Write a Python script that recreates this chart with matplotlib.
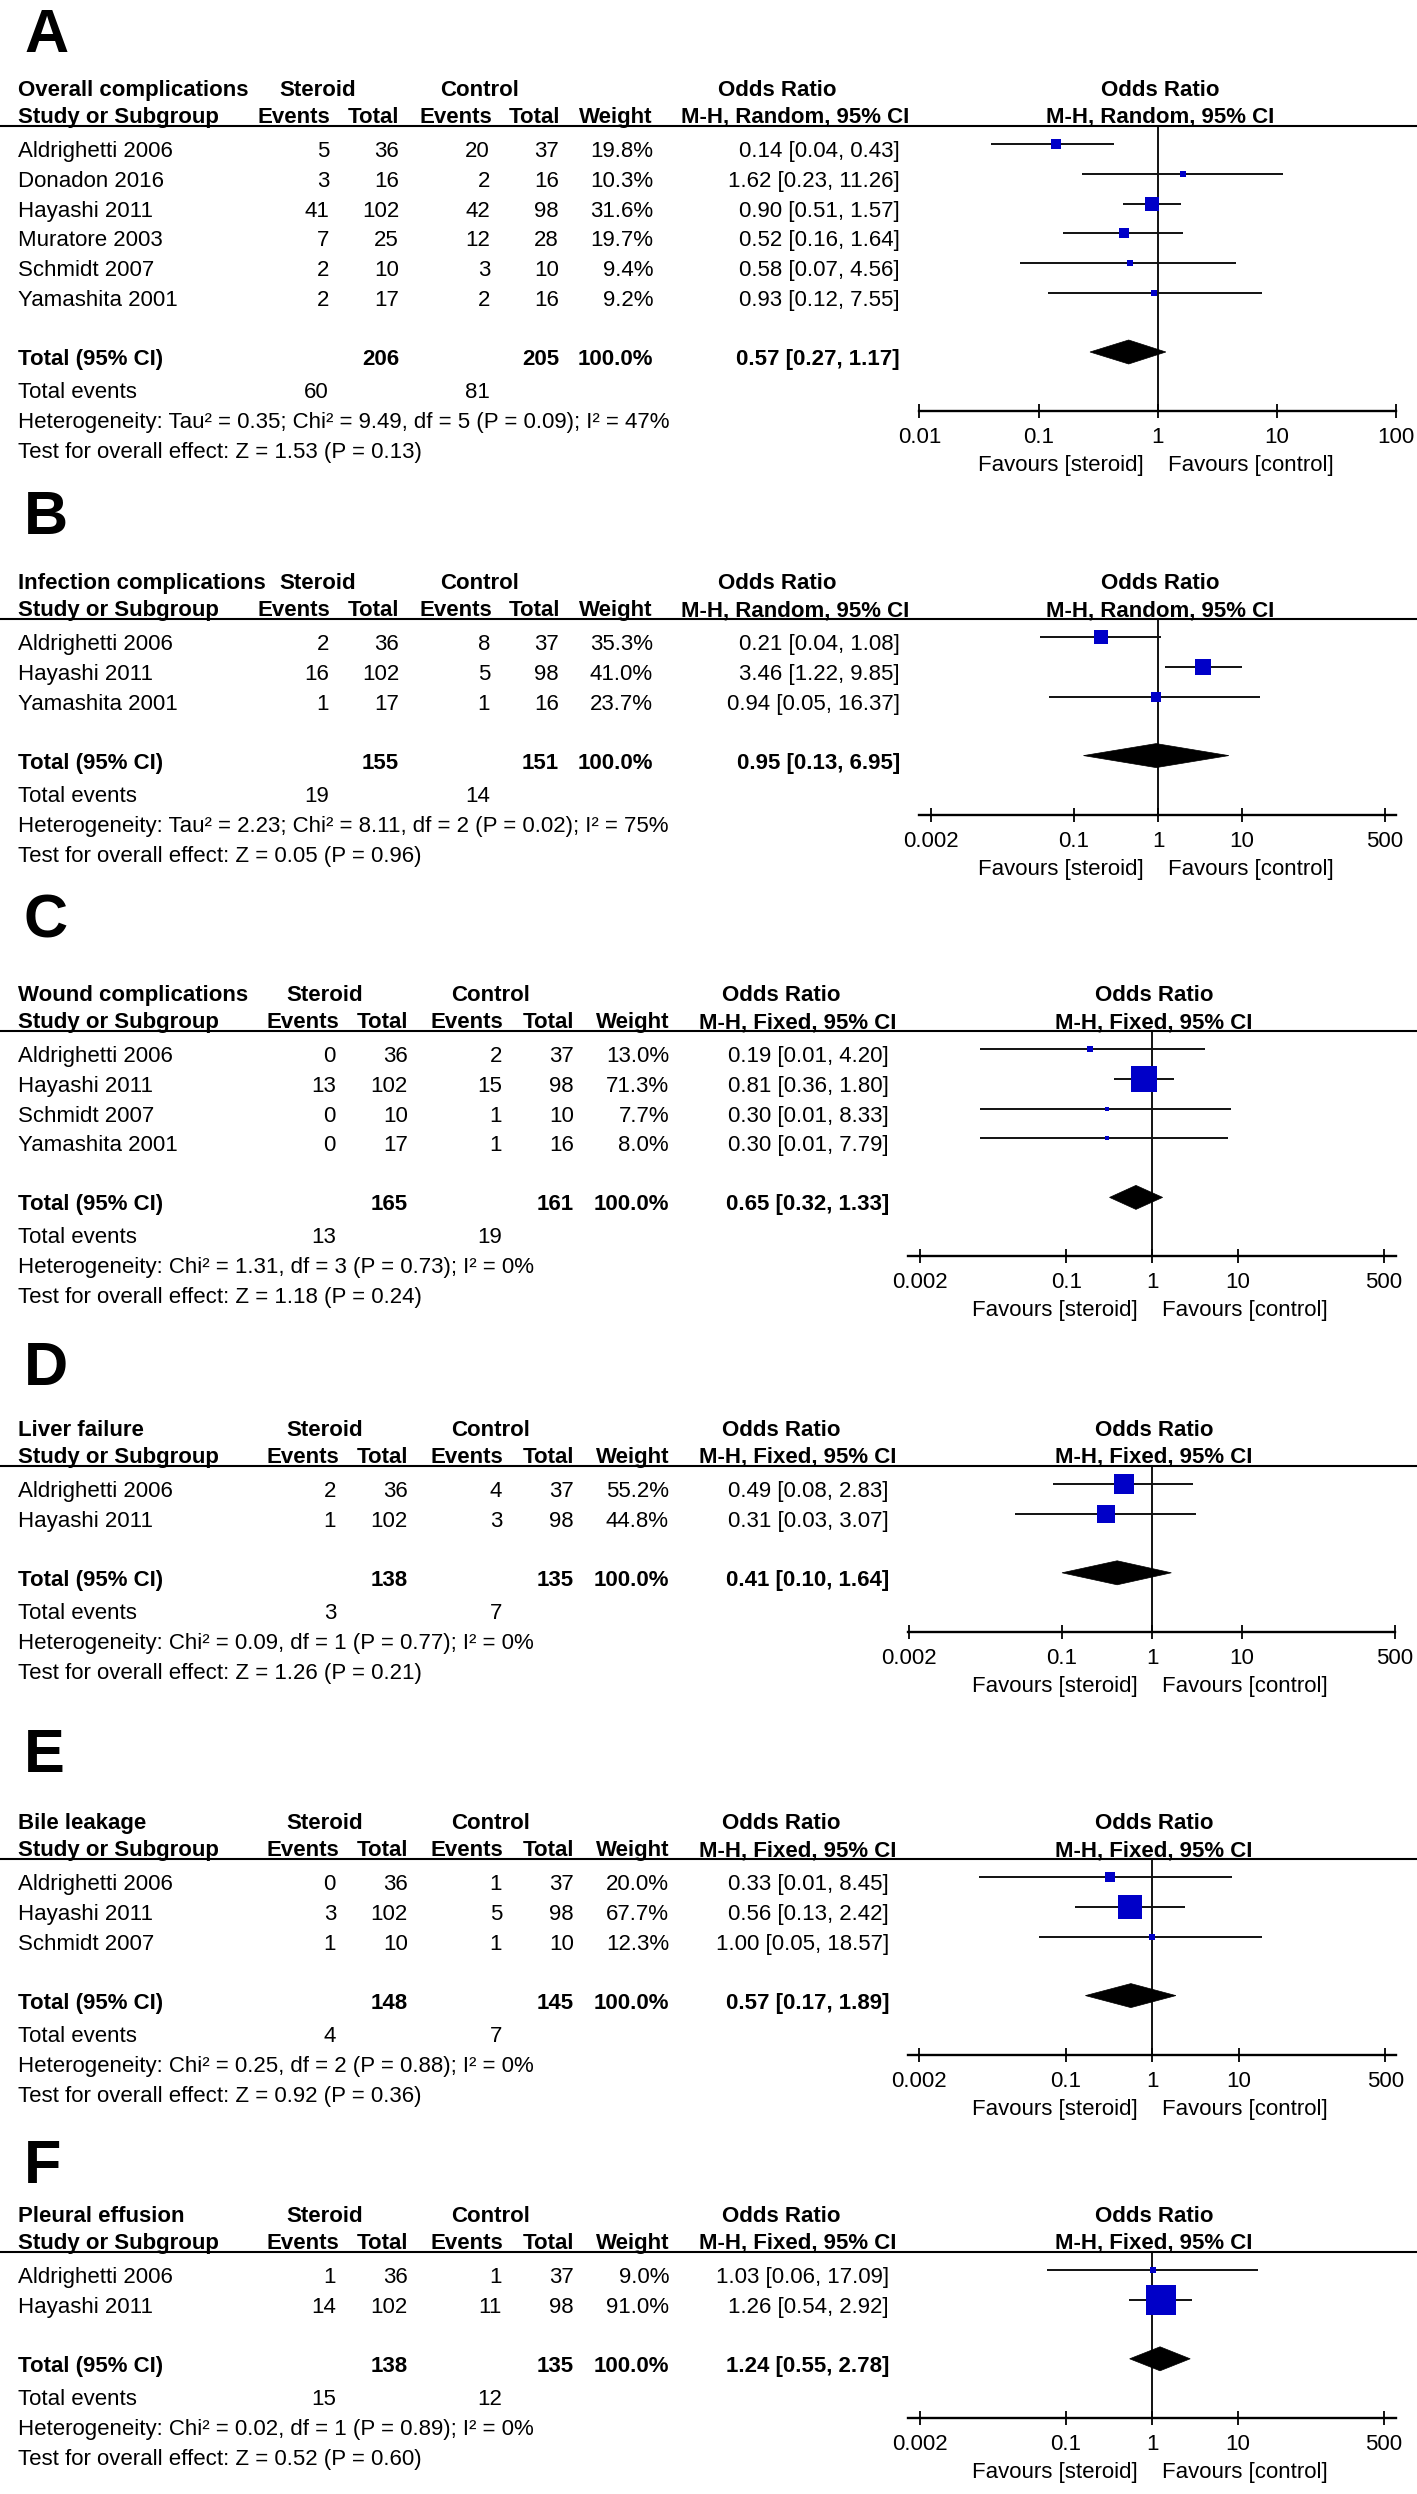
import matplotlib
matplotlib.use("Agg")
import matplotlib.pyplot as plt
from matplotlib.patches import Polygon
from matplotlib.ticker import NullLocator

plt.rcParams['font.family'] = ['Liberation Sans', 'DejaVu Sans']

# ---------------- data ----------------
PANELS = ["A", "B", "C", "D", "E", "F"]
OUTCOME = {"A": "Overall complications", "B": "Infection complications", "C": "Wound complications",
           "D": "Liver failure", "E": "Bile leakage", "F": "Pleural effusion"}
MODEL = {"A": "Random", "B": "Random", "C": "Fixed", "D": "Fixed", "E": "Fixed", "F": "Fixed"}

STUDY = {
    "A": ["Aldrighetti 2006", "Donadon 2016", "Hayashi 2011", "Muratore 2003", "Schmidt 2007", "Yamashita 2001"],
    "B": ["Aldrighetti 2006", "Hayashi 2011", "Yamashita 2001"],
    "C": ["Aldrighetti 2006", "Hayashi 2011", "Schmidt 2007", "Yamashita 2001"],
    "D": ["Aldrighetti 2006", "Hayashi 2011"],
    "E": ["Aldrighetti 2006", "Hayashi 2011", "Schmidt 2007"],
    "F": ["Aldrighetti 2006", "Hayashi 2011"],
}
STEROID_EVENTS = {"A": [5, 3, 41, 7, 2, 2], "B": [2, 16, 1], "C": [0, 13, 0, 0], "D": [2, 1], "E": [0, 3, 1], "F": [1, 14]}
STEROID_TOTAL = {"A": [36, 16, 102, 25, 10, 17], "B": [36, 102, 17], "C": [36, 102, 10, 17], "D": [36, 102],
                 "E": [36, 102, 10], "F": [36, 102]}
CONTROL_EVENTS = {"A": [20, 2, 42, 12, 3, 2], "B": [8, 5, 1], "C": [2, 15, 1, 1], "D": [4, 3], "E": [1, 5, 1], "F": [1, 11]}
CONTROL_TOTAL = {"A": [37, 16, 98, 28, 10, 16], "B": [37, 98, 16], "C": [37, 98, 10, 16], "D": [37, 98],
                 "E": [37, 98, 10], "F": [37, 98]}
WEIGHT = {"A": [19.8, 10.3, 31.6, 19.7, 9.4, 9.2], "B": [35.3, 41.0, 23.7], "C": [13.0, 71.3, 7.7, 8.0],
          "D": [55.2, 44.8], "E": [20.0, 67.7, 12.3], "F": [9.0, 91.0]}
ODDS_RATIO = {"A": [0.14, 1.62, 0.90, 0.52, 0.58, 0.93], "B": [0.21, 3.46, 0.94], "C": [0.19, 0.81, 0.30, 0.30],
              "D": [0.49, 0.31], "E": [0.33, 0.56, 1.00], "F": [1.03, 1.26]}
CI_LOWER = {"A": [0.04, 0.23, 0.51, 0.16, 0.07, 0.12], "B": [0.04, 1.22, 0.05], "C": [0.01, 0.36, 0.01, 0.01],
            "D": [0.08, 0.03], "E": [0.01, 0.13, 0.05], "F": [0.06, 0.54]}
CI_UPPER = {"A": [0.43, 11.26, 1.57, 1.64, 4.56, 7.55], "B": [1.08, 9.85, 16.37], "C": [4.20, 1.80, 8.33, 7.79],
            "D": [2.83, 3.07], "E": [8.45, 2.42, 18.57], "F": [17.09, 2.92]}
TOTAL_STEROID = {"A": 206, "B": 155, "C": 165, "D": 138, "E": 148, "F": 138}
TOTAL_CONTROL = {"A": 205, "B": 151, "C": 161, "D": 135, "E": 145, "F": 135}
EVENTS_STEROID = {"A": 60, "B": 19, "C": 13, "D": 3, "E": 4, "F": 15}
EVENTS_CONTROL = {"A": 81, "B": 14, "C": 19, "D": 7, "E": 7, "F": 12}
POOLED_OR = {"A": 0.57, "B": 0.95, "C": 0.65, "D": 0.41, "E": 0.57, "F": 1.24}
POOLED_LOWER = {"A": 0.27, "B": 0.13, "C": 0.32, "D": 0.10, "E": 0.17, "F": 0.55}
POOLED_UPPER = {"A": 1.17, "B": 6.95, "C": 1.33, "D": 1.64, "E": 1.89, "F": 2.78}
HETEROGENEITY = {
    "A": "Heterogeneity: Tau\u00b2 = 0.35; Chi\u00b2 = 9.49, df = 5 (P = 0.09); I\u00b2 = 47%",
    "B": "Heterogeneity: Tau\u00b2 = 2.23; Chi\u00b2 = 8.11, df = 2 (P = 0.02); I\u00b2 = 75%",
    "C": "Heterogeneity: Chi\u00b2 = 1.31, df = 3 (P = 0.73); I\u00b2 = 0%",
    "D": "Heterogeneity: Chi\u00b2 = 0.09, df = 1 (P = 0.77); I\u00b2 = 0%",
    "E": "Heterogeneity: Chi\u00b2 = 0.25, df = 2 (P = 0.88); I\u00b2 = 0%",
    "F": "Heterogeneity: Chi\u00b2 = 0.02, df = 1 (P = 0.89); I\u00b2 = 0%",
}
OVERALL_EFFECT = {
    "A": "Test for overall effect: Z = 1.53 (P = 0.13)",
    "B": "Test for overall effect: Z = 0.05 (P = 0.96)",
    "C": "Test for overall effect: Z = 1.18 (P = 0.24)",
    "D": "Test for overall effect: Z = 1.26 (P = 0.21)",
    "E": "Test for overall effect: Z = 0.92 (P = 0.36)",
    "F": "Test for overall effect: Z = 0.52 (P = 0.60)",
}
AXIS_TICKS = {"A": [0.01, 0.1, 1, 10, 100]}
AXIS_TICK_LABELS = {"A": ["0.01", "0.1", "1", "10", "100"]}
for _p in ["B", "C", "D", "E", "F"]:
    AXIS_TICKS[_p] = [0.002, 0.1, 1, 10, 500]
    AXIS_TICK_LABELS[_p] = ["0.002", "0.1", "1", "10", "500"]

# ---------------- layout (pixels) ----------------
W, H = 1417, 2494
LAYOUT = {
    "A": dict(letter_y=52, hl=126, cols=1, x1=1158, dec=119.25, line=(919, 1396)),
    "B": dict(letter_y=534, hl=619, cols=1, x1=1158, dec=84.1, line=(919, 1396)),
    "C": dict(letter_y=938, hl=1031, cols=2, x1=1152, dec=85.8, line=(908, 1396)),
    "D": dict(letter_y=1385, hl=1466, cols=2, x1=1152, dec=90.0, line=(908, 1395)),
    "E": dict(letter_y=1772, hl=1859, cols=2, x1=1152, dec=86.5, line=(908, 1396)),
    "F": dict(letter_y=2183, hl=2252, cols=2, x1=1152, dec=86.0, line=(908, 1396)),
}
COLS = {
    1: dict(steroid_c=318, control_c=480, or_c=777, ev1=329, n1=399, ev2=490, n2=559, wt=653, ci=900,
            h_ev1=330, h_n1=399, h_ev2=492, h_n2=560, h_wt=652, h_ci=795),
    2: dict(steroid_c=325, control_c=491, or_c=781, ev1=336, n1=408, ev2=502, n2=574, wt=669, ci=889,
            h_ev1=339, h_n1=408, h_ev2=503, h_n2=574, h_wt=669, h_ci=798),
}
FS = 16
BLUE = "#0000C8"
ROW_STEP = 29.8

fig = plt.figure(figsize=(W / 100, H / 100), dpi=100)
ov = fig.add_axes([0, 0, 1, 1])
ov.set_xlim(0, W)
ov.set_ylim(H, 0)
ov.axis("off")


def put(x, yc, s, ha="left", bold=False, size=FS):
    ov.text(x, yc + 8, s, ha=ha, va="baseline", fontsize=size,
            fontweight="bold" if bold else "normal", color="black")


def box_side_px(w):
    return 0.95 * w ** 0.77


for p in PANELS:
    L = LAYOUT[p]
    C = COLS[L["cols"]]
    hl = L["hl"]
    # panel letter
    ov.text(24, L["letter_y"], p, fontsize=44, fontweight="bold", va="baseline", ha="left")
    # header rows
    tb = hl - 30 - 8
    put(18, tb, OUTCOME[p], bold=True)
    put(C["steroid_c"], tb, "Steroid", ha="center", bold=True)
    put(C["control_c"], tb, "Control", ha="center", bold=True)
    put(C["or_c"], tb, "Odds Ratio", ha="center", bold=True)
    put(L["x1"] + 2, tb, "Odds Ratio", ha="center", bold=True)
    rb = hl - 3 - 8
    method = "M-H, %s, 95%% CI" % MODEL[p]
    put(18, rb, "Study or Subgroup", bold=True)
    put(C["h_ev1"], rb, "Events", ha="right", bold=True)
    put(C["h_n1"], rb, "Total", ha="right", bold=True)
    put(C["h_ev2"], rb, "Events", ha="right", bold=True)
    put(C["h_n2"], rb, "Total", ha="right", bold=True)
    put(C["h_wt"], rb, "Weight", ha="right", bold=True)
    put(C["h_ci"], rb, method, ha="center", bold=True)
    put(L["x1"] + 2, rb, method, ha="center", bold=True)
    ov.plot([0, W], [hl, hl], color="black", lw=1.5, solid_capstyle="butt")

    n = len(STUDY[p])
    rows = [hl + 23 + ROW_STEP * i for i in range(n)]
    for i, y in enumerate(rows):
        put(18, y, STUDY[p][i])
        put(C["ev1"], y, str(STEROID_EVENTS[p][i]), ha="right")
        put(C["n1"], y, str(STEROID_TOTAL[p][i]), ha="right")
        put(C["ev2"], y, str(CONTROL_EVENTS[p][i]), ha="right")
        put(C["n2"], y, str(CONTROL_TOTAL[p][i]), ha="right")
        put(C["wt"], y, "%.1f%%" % WEIGHT[p][i], ha="right")
        put(C["ci"], y, "%.2f [%.2f, %.2f]" % (ODDS_RATIO[p][i], CI_LOWER[p][i], CI_UPPER[p][i]), ha="right")

    ty = rows[-1] + 59
    put(18, ty, "Total (95% CI)", bold=True)
    put(C["n1"], ty, str(TOTAL_STEROID[p]), ha="right", bold=True)
    put(C["n2"], ty, str(TOTAL_CONTROL[p]), ha="right", bold=True)
    put(C["wt"], ty, "100.0%", ha="right", bold=True)
    put(C["ci"], ty, "%.2f [%.2f, %.2f]" % (POOLED_OR[p], POOLED_LOWER[p], POOLED_UPPER[p]), ha="right", bold=True)
    put(18, ty + 33, "Total events")
    put(C["ev1"], ty + 33, str(EVENTS_STEROID[p]), ha="right")
    put(C["ev2"], ty + 33, str(EVENTS_CONTROL[p]), ha="right")
    put(18, ty + 63, HETEROGENEITY[p])
    put(18, ty + 93, OVERALL_EFFECT[p])

    # forest axes
    ay = ty + 54
    lx0, lx1 = L["line"]
    xmin = 10 ** ((lx0 - L["x1"]) / L["dec"])
    xmax = 10 ** ((lx1 - L["x1"]) / L["dec"])
    ax = fig.add_axes([lx0 / W, 1 - ay / H, (lx1 - lx0) / W, (ay - hl) / H])
    ax.patch.set_alpha(0)
    ax.set_xscale("log")
    ax.set_xlim(xmin, xmax)
    ax.set_ylim(ay, hl)
    for s in ["top", "left", "right"]:
        ax.spines[s].set_visible(False)
    ax.spines["bottom"].set_linewidth(1.7)
    ax.set_yticks([])
    ax.set_xticks(AXIS_TICKS[p])
    ax.set_xticklabels(AXIS_TICK_LABELS[p])
    ax.xaxis.set_minor_locator(NullLocator())
    ax.tick_params(axis="x", direction="inout", length=9.4, width=1.3, pad=6.8, labelsize=FS)

    ax.plot([1, 1], [hl, ay], color="black", lw=1.3, solid_capstyle="butt", clip_on=False)
    for i, y in enumerate(rows):
        ym = y - 5
        ax.plot([CI_LOWER[p][i], CI_UPPER[p][i]], [ym, ym], color="#111111", lw=1.4,
                solid_capstyle="butt", zorder=3)
        ax.plot([ODDS_RATIO[p][i]], [ym], marker="s", linestyle="none", color=BLUE,
                markersize=box_side_px(WEIGHT[p][i]) * 0.72, markeredgewidth=0, zorder=4)
    yd = ty - 5
    ax.add_patch(Polygon([(POOLED_LOWER[p], yd), (POOLED_OR[p], yd - 12), (POOLED_UPPER[p], yd),
                          (POOLED_OR[p], yd + 12)], closed=True, facecolor="black", edgecolor="black",
                         lw=0.5, zorder=4))
    ax.annotate("Favours [steroid]", xy=(1, ay + 60), xytext=(-14 * 0.72, 0), textcoords="offset points",
                ha="right", va="baseline", fontsize=FS, annotation_clip=False)
    ax.annotate("Favours [control]", xy=(1, ay + 60), xytext=(10 * 0.72, 0), textcoords="offset points",
                ha="left", va="baseline", fontsize=FS, annotation_clip=False)

fig.savefig("out.png", dpi=100)
